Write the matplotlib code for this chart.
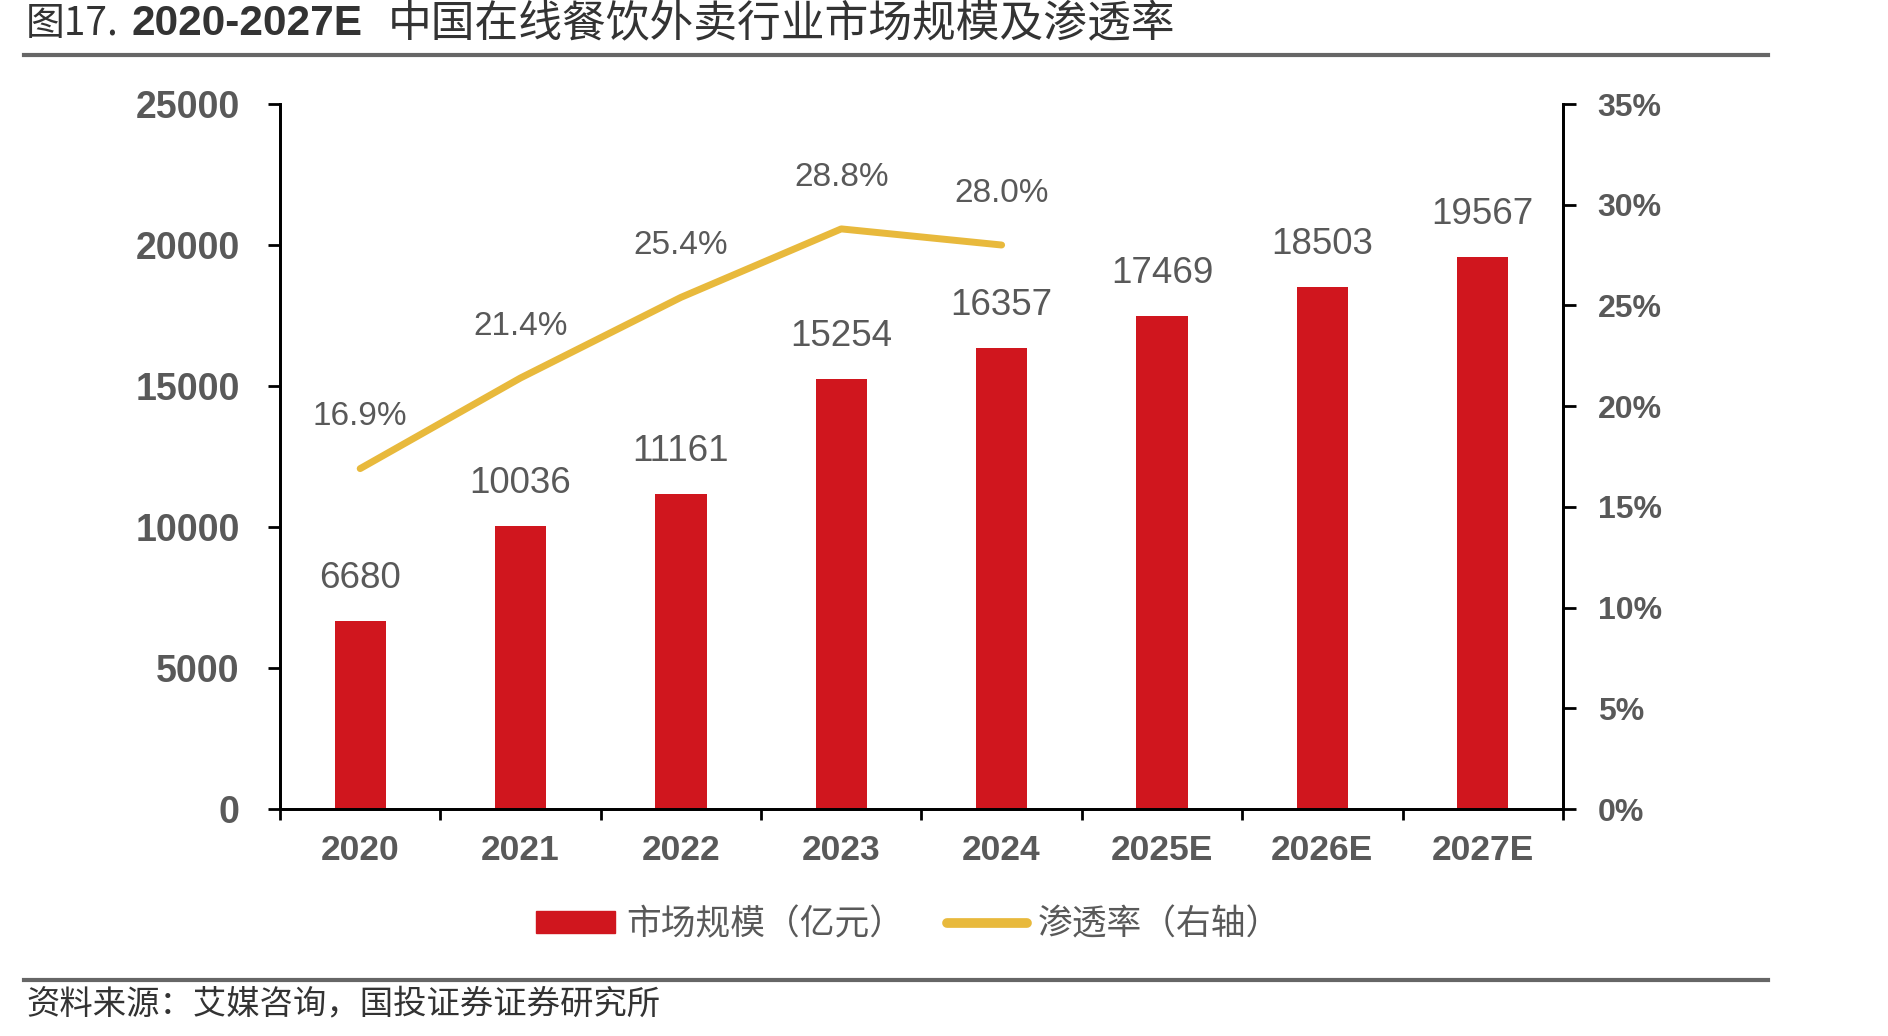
import matplotlib
matplotlib.use("Agg")
import matplotlib.pyplot as plt
from matplotlib.patches import Patch
from matplotlib.lines import Line2D
from matplotlib.ticker import FuncFormatter, FixedLocator

# data
years = ["2020", "2021", "2022", "2023", "2024", "2025E", "2026E", "2027E"]
market_size = [6680, 10036, 11161, 15254, 16357, 17469, 18503, 19567]  # 亿元
penetration = [16.9, 21.4, 25.4, 28.8, 28.0]  # %, 2020-2024 only

bar_color = "#D0161E"
line_color = "#E8B93C"
gray = "#595959"
cjk = ["Noto Sans CJK SC", "DejaVu Sans"]
num_font = "Liberation Sans"

fig = plt.figure(figsize=(18.88, 10.36), dpi=100)
ax = fig.add_axes([0.1483, 0.2191, 0.6795, 0.6805])
ax2 = ax.twinx()

x = list(range(len(years)))
ax.bar(x, market_size, width=0.32, color=bar_color, zorder=2)
ax.set_xlim(-0.5, len(years) - 0.5)
ax.set_ylim(0, 25000)
ax.set_yticks(range(0, 25001, 5000))

for xi, v in zip(x, market_size):
    ax.annotate(str(v), (xi, v), xytext=(0, 18), textcoords="offset points",
                ha="center", va="bottom", fontsize=26.5, color=gray, family=num_font)

ax2.plot(x[:len(penetration)], penetration, color=line_color, lw=5, solid_capstyle="round", zorder=3)
ax2.set_ylim(0, 35)
ax2.set_yticks(range(0, 36, 5))
ax2.yaxis.set_major_formatter(FuncFormatter(lambda v, p: f"{v:.0f}%"))
for xi, v in zip(x, penetration):
    ax2.annotate(f"{v:.1f}%", (xi, v), xytext=(0, 26), textcoords="offset points",
                 ha="center", va="bottom", fontsize=24, color=gray, family=num_font)

# x ticks at category boundaries, labels in the middle
ax.xaxis.set_major_locator(FixedLocator([i - 0.5 for i in range(len(years) + 1)]))
ax.xaxis.set_minor_locator(FixedLocator(x))
ax.set_xticklabels([])
ax.set_xticklabels(years, minor=True)
ax.tick_params(axis="x", which="major", direction="out", length=8, width=2, color="black")
ax.tick_params(axis="x", which="minor", length=0, pad=18)
for lab in ax.get_xticklabels(minor=True):
    lab.set_fontsize(25.5)
    lab.set_fontweight("bold")
    lab.set_color(gray)
    lab.set_family(num_font)

ax.tick_params(axis="y", direction="out", length=9, width=2, pad=20)
ax2.tick_params(axis="y", direction="out", length=9, width=2, pad=16)
for lab in ax.get_yticklabels():
    lab.set_fontsize(27)
    lab.set_fontweight("bold")
    lab.set_color(gray)
    lab.set_family(num_font)
for lab in ax2.get_yticklabels():
    lab.set_fontsize(23)
    lab.set_fontweight("bold")
    lab.set_color(gray)
    lab.set_family(num_font)

for a in (ax, ax2):
    a.spines["top"].set_visible(False)
    for s in ("left", "right", "bottom"):
        a.spines[s].set_linewidth(2)
        a.spines[s].set_color("black")

# title
fig.text(0.0138, 0.977, "图17.", fontsize=28, color="#333333", family=cjk, va="center")
fig.text(0.0699, 0.977, "2020-2027E", fontsize=30.5, color="#333333", family=num_font,
         fontweight="bold", va="center")
fig.text(0.2055, 0.977, "中国在线餐饮外卖行业市场规模及渗透率", fontsize=31.5, color="#333333",
         family=cjk, va="center")
fig.add_artist(Line2D([0.0127, 0.9365], [0.947, 0.947], color="#666666", lw=3))

# source
fig.add_artist(Line2D([0.0127, 0.9365], [0.054, 0.054], color="#666666", lw=3))
fig.text(0.0138, 0.031, "资料来源：艾媒咨询，国投证券证券研究所", fontsize=24, color="#333333",
         family=cjk, style="italic", va="center")

# legend
handles = [Patch(color=bar_color), Line2D([], [], color=line_color, lw=7, solid_capstyle="round")]
fig.legend(handles, ["市场规模（亿元）", "渗透率（右轴）"], loc="center", bbox_to_anchor=(0.481, 0.107),
           ncol=2, frameon=False, prop={"family": cjk, "size": 25}, labelcolor=gray,
           handlelength=2.3, handleheight=0.6, columnspacing=1.25, handletextpad=0.3)

fig.savefig("out.png", dpi=100)
